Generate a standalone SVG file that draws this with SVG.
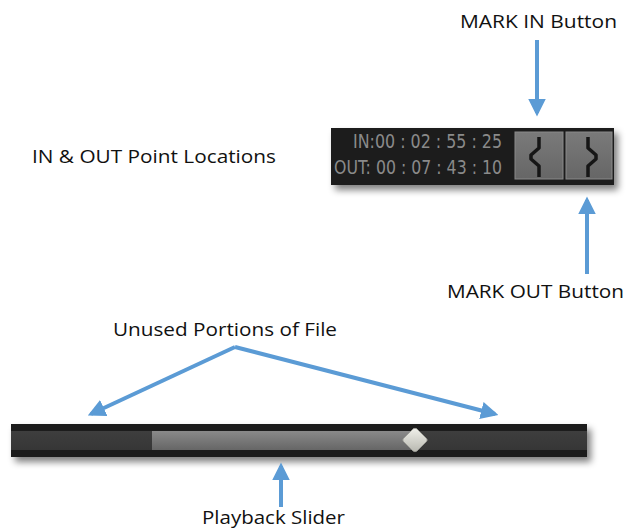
<svg xmlns="http://www.w3.org/2000/svg" width="628" height="531" viewBox="0 0 628 531">
  <style>
    .label { font-family: "Open Sans", "Noto Sans", "Liberation Sans", sans-serif; font-size: 19px; fill: #111; }
    .tc { font-family: "DejaVu Sans Condensed", "Roboto", "Liberation Sans", sans-serif; font-size: 19px; fill: #8a8a8a; }
    .conn { stroke: #5b9bd5; stroke-width: 4; fill: none; }
    .bracket { stroke: #161616; stroke-width: 3.5; fill: none; stroke-linejoin: round; }
  </style>
  <defs>
    <marker id="head" viewBox="0 0 10 10" refX="8" refY="5" markerWidth="4.4" markerHeight="4.4" orient="auto" markerUnits="strokeWidth">
      <path d="M0,0 L10,5 L0,10 Z" fill="#5b9bd5"/>
    </marker>
    <filter id="shadow" x="-10%" y="-30%" width="125%" height="180%">
      <feGaussianBlur in="SourceAlpha" stdDeviation="3.5"/>
      <feOffset dx="4" dy="5" result="b"/>
      <feComponentTransfer><feFuncA type="linear" slope="0.5"/></feComponentTransfer>
      <feMerge><feMergeNode/><feMergeNode in="SourceGraphic"/></feMerge>
    </filter>
    <linearGradient id="btn" x1="0" y1="0" x2="0" y2="1">
      <stop offset="0" stop-color="#7a7a7a"/>
      <stop offset="1" stop-color="#666"/>
    </linearGradient>
    <linearGradient id="played" x1="0" y1="0" x2="0" y2="1">
      <stop offset="0" stop-color="#8a8a8a"/>
      <stop offset="1" stop-color="#666"/>
    </linearGradient>
    <linearGradient id="track" x1="0" y1="0" x2="0" y2="1">
      <stop offset="0" stop-color="#3e3e3e"/>
      <stop offset="1" stop-color="#363636"/>
    </linearGradient>
    <linearGradient id="knob" x1="0" y1="0" x2="0" y2="1">
      <stop offset="0" stop-color="#f0f0ea"/>
      <stop offset="1" stop-color="#b8b8b0"/>
    </linearGradient>
  </defs>

  <!-- timecode readout with mark buttons -->
  <g id="timecode-panel">
    <rect x="331" y="128" width="283" height="57" fill="#1e1e1e" filter="url(#shadow)"/>
    <text class="tc" x="502" y="148" text-anchor="end" textLength="149" lengthAdjust="spacingAndGlyphs">IN:00 : 02 : 55 : 25</text>
    <text class="tc" x="502" y="174" text-anchor="end" textLength="168" lengthAdjust="spacingAndGlyphs">OUT: 00 : 07 : 43 : 10</text>
  </g>

  <g id="mark-in-button">
    <rect x="515" y="132" width="48" height="47" fill="url(#btn)" stroke="#8a8a8a" stroke-width="1"/>
    <path class="bracket" d="M539,137 V148 L531,155 V159 L539,166 V177"/>
  </g>

  <g id="mark-out-button">
    <rect x="566" y="132" width="46" height="47" fill="url(#btn)" stroke="#8a8a8a" stroke-width="1"/>
    <path class="bracket" d="M588,137 V148 L596,155 V159 L588,166 V177"/>
  </g>

  <!-- playback slider -->
  <g id="playback-slider">
    <rect x="11" y="424" width="576" height="33" fill="#1c1c1c" filter="url(#shadow)"/>
    <rect x="11" y="431" width="576" height="19" fill="url(#track)"/>
    <rect x="152" y="431" width="263" height="19" fill="url(#played)"/>
    <path d="M415,428.5 Q416,428 417,429 L426.5,438.5 Q428,440 426.5,441.5 L417,451 Q415,452.5 413,451 L403.5,441.5 Q402,440 403.5,438.5 L413,429 Q414,428 415,428.5 Z" fill="url(#knob)" stroke="#9a9a94" stroke-width="0.8"/>
  </g>

  <!-- labels -->
  <g id="label-mark-in"><text class="label" x="460" y="28" textLength="157" lengthAdjust="spacingAndGlyphs">MARK IN Button</text></g>
  <g id="label-mark-out"><text class="label" x="447" y="298" textLength="177" lengthAdjust="spacingAndGlyphs">MARK OUT Button</text></g>
  <g id="label-points"><text class="label" x="32" y="163" textLength="244" lengthAdjust="spacingAndGlyphs">IN &amp; OUT Point Locations</text></g>
  <g id="label-unused"><text class="label" x="113" y="336" textLength="224" lengthAdjust="spacingAndGlyphs">Unused Portions of File</text></g>
  <g id="label-slider"><text class="label" x="202" y="524" textLength="143" lengthAdjust="spacingAndGlyphs">Playback Slider</text></g>

  <!-- connectors -->
  <g id="connectors">
    <line class="conn" x1="537" y1="40" x2="537" y2="113" marker-end="url(#head)"/>
    <line class="conn" x1="587" y1="274" x2="587" y2="200" marker-end="url(#head)"/>
    <line class="conn" x1="281" y1="507" x2="281" y2="466" marker-end="url(#head)"/>
    <polyline class="conn" points="235,347 91,414" marker-end="url(#head)"/>
    <polyline class="conn" points="235,347 495,414" marker-end="url(#head)"/>
  </g>
</svg>
